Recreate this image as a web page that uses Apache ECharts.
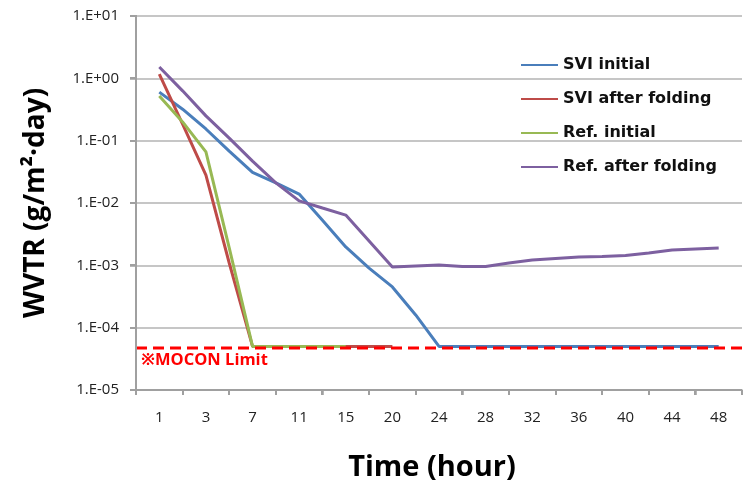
<!DOCTYPE html>
<html>
<head>
<meta charset="utf-8">
<script src="https://cdn.jsdelivr.net/npm/echarts@6/dist/echarts.min.js"></script>
<style>
  html, body { margin: 0; padding: 0; background: #fff; }
  #chart { width: 751px; height: 484px; }
</style>
</head>
<body>
<div id="chart"></div>
<script>
// Measurement times (hours); every second one carries an axis label
const HOURS = [1, 2, 3, 5, 7, 9, 11, 13, 15, 17, 20, 22, 24, 26, 28, 30, 32, 34, 36, 38, 40, 42, 44, 46, 48];
const LABEL_HOURS = [1, 3, 7, 11, 15, 20, 24, 28, 32, 36, 40, 44, 48];

// WVTR values, g/m²·day (null = not measured)
const SVI_INITIAL = [0.60, 0.32, 0.154, 0.068, 0.031, 0.021, 0.0139, 0.0053, 0.00197, 0.0009, 0.00045, 0.00016,
  5e-5, 5e-5, 5e-5, 5e-5, 5e-5, 5e-5, 5e-5, 5e-5, 5e-5, 5e-5, 5e-5, 5e-5, 5e-5];
const SVI_AFTER_FOLDING = [1.17, 0.185, 0.028, 0.00109, 5e-5, 5e-5, 5e-5, 5e-5, 5e-5, 5e-5, 5e-5,
  null, null, null, null, null, null, null, null, null, null, null, null, null, null];
const REF_INITIAL = [0.52, 0.20, 0.066, 0.0019, 5e-5, 5e-5, 5e-5, 5e-5, 5e-5,
  null, null, null, null, null, null, null, null, null, null, null, null, null, null, null, null];
const REF_AFTER_FOLDING = [1.52, 0.63, 0.25, 0.11, 0.047, 0.021, 0.0108, 0.0083, 0.0064, 0.00245, 0.00094,
  0.00098, 0.00101, 0.00096, 0.00096, 0.00109, 0.00122, 0.00129, 0.00136, 0.00139, 0.00144, 0.00158,
  0.00176, 0.00183, 0.0019];

const SERIES_NAMES = ['SVI initial', 'SVI after folding', 'Ref. initial', 'Ref. after folding'];
const SERIES_VALUES = [SVI_INITIAL, SVI_AFTER_FOLDING, REF_INITIAL, REF_AFTER_FOLDING];
const COLORS = ['#4A7EBB', '#BE4B48', '#98B954', '#7D60A0'];

// Y range (decades) and instrument detection limit
const Y_MIN = 1e-5;
const Y_MAX = 10;
const MOCON_LIMIT = 4.7e-5;

// x position = (index of the measurement in HOURS) + 1, so the axis runs 0 .. HOURS.length + 1;
// labelled hours sit on odd positions, category boundaries on even ones
const xPos = idx => idx + 1;
const X_MAX = HOURS.length + 1;
const labelPositions = LABEL_HOURS.map(h => xPos(HOURS.indexOf(h)));
const tickPositions = [];
for (let p = 0; p <= X_MAX; p += 2) tickPositions.push(p);

const decades = [];
for (let e = Math.round(Math.log10(Y_MIN)); e <= Math.round(Math.log10(Y_MAX)); e++) decades.push(Math.pow(10, e));

const FONT = '"Open Sans", "Noto Sans", "Noto Sans CJK KR", sans-serif';
const LEGEND_FONT = '"DejaVu Sans", "Open Sans", sans-serif';
const AXIS_GRAY = '#A0A0A0';

function sciLabel(v) {
  const e = Math.round(Math.log10(v));
  const a = Math.abs(e);
  return '1.E' + (e < 0 ? '-' : '+') + (a < 10 ? '0' + a : a);
}

const series = SERIES_VALUES.map((vals, i) => ({
  name: SERIES_NAMES[i],
  type: 'line',
  symbol: 'none',
  connectNulls: false,
  lineStyle: { color: COLORS[i], width: 3 },
  itemStyle: { color: COLORS[i] },
  data: vals.map((v, idx) => [xPos(idx), v === null ? '-' : v]),
  z: 3 + i
}));

// Dashed detection-limit line across the whole plot
series.push({
  name: 'MOCON Limit',
  type: 'line',
  symbol: 'none',
  silent: true,
  lineStyle: { color: '#FF0000', width: 3, type: [11, 6] },
  itemStyle: { color: '#FF0000' },
  data: [[0, MOCON_LIMIT], [X_MAX, MOCON_LIMIT]],
  z: 10
});

const chart = echarts.init(document.getElementById('chart'), null, { renderer: 'canvas' });
chart.setOption({
  animation: false,
  backgroundColor: '#ffffff',
  color: COLORS,
  grid: { left: 136, right: 9, top: 16, bottom: 94, containLabel: false, outerBoundsMode: 'none' },
  legend: {
    orient: 'vertical',
    left: 516,
    top: 52,
    itemWidth: 37,
    itemHeight: 14,
    itemGap: 18,
    icon: 'path://M0,6 L37,6 L37,8 L0,8 Z',
    data: SERIES_NAMES,
    textStyle: { fontFamily: LEGEND_FONT, fontWeight: 'bold', fontSize: 16, color: '#111', padding: [0, 0, 0, 0] }
  },
  xAxis: {
    type: 'value',
    min: 0,
    max: X_MAX,
    name: 'Time (hour)',
    nameLocation: 'middle',
    nameGap: 63,
    nameTextStyle: { fontFamily: FONT, fontWeight: 'bold', fontSize: 29, color: '#000', padding: [0, 14, 0, 0] },
    axisLine: { show: true, lineStyle: { color: AXIS_GRAY, width: 1.5 } },
    axisTick: { show: true, length: 5, customValues: tickPositions, lineStyle: { color: AXIS_GRAY, width: 1.5 } },
    axisLabel: {
      customValues: labelPositions,
      formatter: v => String(HOURS[Math.round(v) - 1]),
      margin: 20,
      fontFamily: FONT,
      fontSize: 15,
      color: '#222'
    },
    splitLine: { show: false }
  },
  yAxis: {
    type: 'log',
    logBase: 10,
    min: Y_MIN,
    max: Y_MAX,
    name: 'WVTR (g/m²·day)',
    nameLocation: 'middle',
    nameRotate: 90,
    nameGap: 86,
    nameTextStyle: { fontFamily: FONT, fontWeight: 'bold', fontSize: 28, color: '#000' },
    axisLine: { show: true, lineStyle: { color: AXIS_GRAY, width: 1.5 } },
    axisTick: { show: true, length: 6, lineStyle: { color: AXIS_GRAY, width: 1.5 } },
    axisLabel: {
      formatter: sciLabel,
      margin: 17,
      fontFamily: FONT,
      fontSize: 15,
      color: '#222'
    },
    splitLine: { show: true, lineStyle: { color: '#B3B3B3', width: 1.5 } }
  },
  series: series
});

// Axis rules and outward ticks as thin filled bars, placed through the chart's own scales
const px = v => chart.convertToPixel({ xAxisIndex: 0 }, v);
const py = v => chart.convertToPixel({ yAxisIndex: 0 }, v);
const xLeft = Math.round(px(0)), xRight = Math.round(px(X_MAX));
const yTop = Math.round(py(Y_MAX)), yBottom = Math.round(py(Y_MIN));

const bar = (x, y, w, h) => ({
  type: 'rect', z: 200, silent: true,
  shape: { x: x, y: y, width: w, height: h },
  style: { fill: AXIS_GRAY }
});

const graphics = [
  bar(xLeft - 1, yTop - 1, 2, yBottom - yTop + 2),
  bar(xLeft - 1, yBottom - 1, xRight - xLeft + 1, 2)
];
decades.forEach(v => {
  const y = Math.round(py(v));
  graphics.push(bar(xLeft - 6, y - 1, 6, 2));
});
tickPositions.forEach(p => {
  const x = Math.round(px(p));
  graphics.push(bar(x - 1, yBottom, 2, 5));
});
graphics.push({
  type: 'text',
  z: 200,
  x: xLeft + 5,
  y: py(MOCON_LIMIT) + 4,
  style: {
    text: '※MOCON Limit',
    fill: '#FF0000',
    font: 'bold 16.5px ' + FONT
  }
});
chart.setOption({ graphic: graphics });
</script>
</body>
</html>
